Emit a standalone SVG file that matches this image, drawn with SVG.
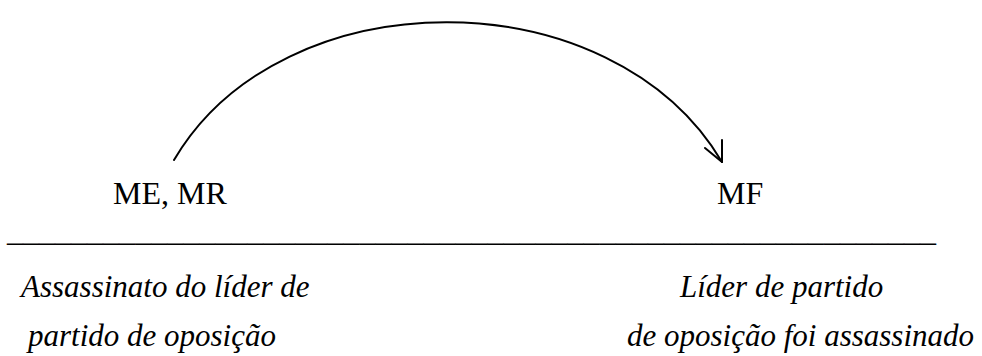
<svg xmlns="http://www.w3.org/2000/svg" width="982" height="356" viewBox="0 0 982 356">
<style>
.up{font-family:'Liberation Serif','Times New Roman',serif;font-size:32px;fill:#000}
.it{font-family:'Liberation Serif','Times New Roman',serif;font-size:31px;font-style:italic;fill:#000}
.conn{fill:none;stroke:#000;stroke-width:2;stroke-linecap:round;stroke-linejoin:round}
</style>
<rect width="982" height="356" fill="#fff"/>
<g id="connectors">
<path class="conn" d="M174,160 C282,-24 612,-24 722,162"/>
<path class="conn" d="M705,148 L722,162 L722,140"/>
</g>
<g id="node-me-mr"><text class="up" x="113" y="204">ME, MR</text></g>
<g id="node-mf"><text class="up" x="717" y="204">MF</text></g>
<g id="separator"><text class="up" x="7" y="241" textLength="929" lengthAdjust="spacingAndGlyphs">__________________________________________________________</text></g>
<g id="label-left">
<text class="it" x="21" y="297">Assassinato do líder de</text>
<text class="it" x="28" y="346">partido de oposição</text>
</g>
<g id="label-right">
<text class="it" x="680" y="297">Líder de partido</text>
<text class="it" x="627" y="346">de oposição foi assassinado</text>
</g>
</svg>
